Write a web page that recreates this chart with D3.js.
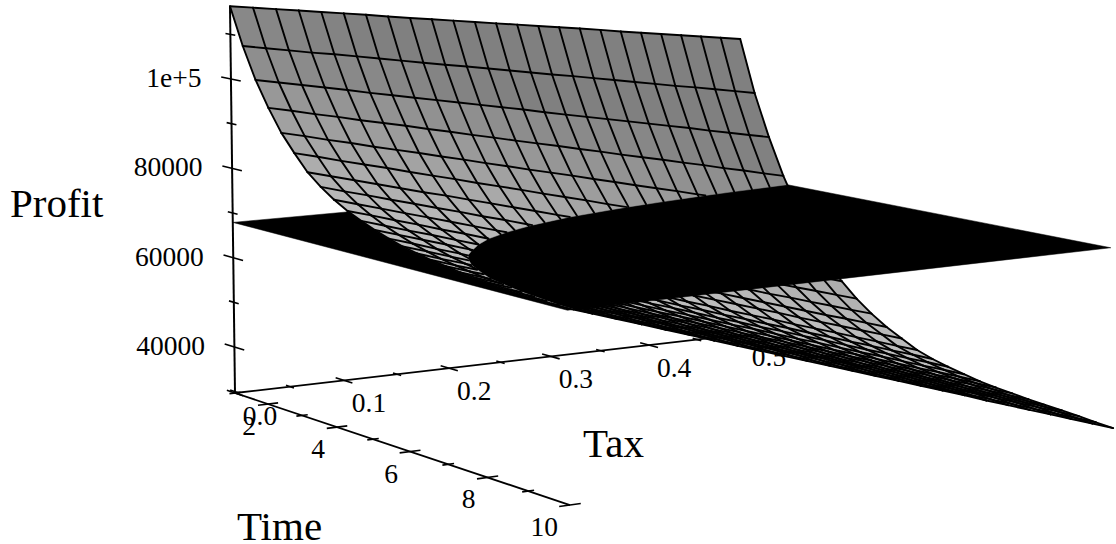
<!DOCTYPE html>
<html>
<head>
<meta charset="utf-8">
<script src="https://cdn.jsdelivr.net/npm/d3@7"></script>
<style>
  body { margin: 0; background: #fff; }
  text { font-family: "Liberation Serif", serif; fill: #000; }
</style>
</head>
<body>
<div id="chart"></div>
<script>
const taxGrid = [0,.0208,.0417,.0625,.0833,.1042,.125,.1458,.1667,.1875,.2083,.2292,.25,.2708,.2917,.3125,.3333,.3542,.375,.3958,.4167,.4375,.4583,.4792,.5];
const timeGrid = [1,1.375,1.75,2.125,2.5,2.875,3.25,3.625,4,4.375,4.75,5.125,5.5,5.875,6.25,6.625,7,7.375,7.75,8.125,8.5,8.875,9.25,9.625,10];
// Profit en miles: una fila por cada valor de timeGrid, una columna por cada valor de taxGrid
const profitThousands = [
[116.3,115.7,115.1,114.5,113.9,113.3,112.7,112.0,111.4,110.8,110.2,109.6,109.0,108.4,107.8,107.2,106.6,106.0,105.3,104.7,104.1,103.5,102.9,102.3,101.7],
[107.9,107.1,106.3,105.5,104.8,104.0,103.2,102.4,101.6,100.8,100.1,99.3,98.5,97.7,96.9,96.2,95.4,94.6,93.8,93.0,92.2,91.5,90.7,89.9,89.1],
[100.9,100.0,99.1,98.2,97.3,96.3,95.4,94.5,93.6,92.7,91.8,90.9,90.0,89.0,88.1,87.2,86.3,85.4,84.5,83.6,82.7,81.7,80.8,79.9,79.0],
[95.3,94.3,93.2,92.2,91.1,90.1,89.1,88.0,87.0,85.9,84.9,83.8,82.8,81.8,80.7,79.7,78.6,77.6,76.6,75.5,74.5,73.4,72.4,71.3,70.3],
[90.4,89.3,88.1,87.0,85.8,84.7,83.6,82.4,81.3,80.1,79.0,77.8,76.7,75.6,74.4,73.3,72.1,71.0,69.9,68.7,67.6,66.4,65.3,64.1,63.0],
[86.6,85.4,84.1,82.9,81.7,80.4,79.2,78.0,76.7,75.5,74.3,73.0,71.8,70.6,69.3,68.1,66.9,65.6,64.4,63.2,61.9,60.7,59.5,58.2,57.0],
[83.1,81.8,80.5,79.2,77.9,76.6,75.4,74.1,72.8,71.5,70.2,68.9,67.6,66.3,65.0,63.7,62.4,61.1,59.9,58.6,57.3,56.0,54.7,53.4,52.1],
[80.6,79.2,77.9,76.5,75.2,73.8,72.5,71.1,69.8,68.4,67.1,65.7,64.4,63.0,61.6,60.3,58.9,57.6,56.2,54.9,53.5,52.2,50.8,49.5,48.1],
[78.5,77.1,75.7,74.3,72.9,71.5,70.1,68.7,67.3,65.9,64.5,63.1,61.7,60.2,58.8,57.4,56.0,54.6,53.2,51.8,50.4,49.0,47.6,46.2,44.8],
[76.8,75.4,73.9,72.5,71.0,69.6,68.1,66.7,65.2,63.8,62.3,60.9,59.5,58.0,56.6,55.1,53.7,52.2,50.8,49.3,47.9,46.4,45.0,43.5,42.1],
[75.4,73.9,72.4,71.0,69.5,68.0,66.5,65.0,63.5,62.0,60.6,59.1,57.6,56.1,54.6,53.1,51.7,50.2,48.7,47.2,45.7,44.2,42.8,41.3,39.8],
[74.2,72.7,71.2,69.7,68.2,66.7,65.2,63.6,62.1,60.6,59.1,57.6,56.1,54.6,53.1,51.6,50.1,48.6,47.1,45.5,44.0,42.5,41.0,39.5,38.0],
[73.1,71.6,70.0,68.5,66.9,65.4,63.9,62.3,60.8,59.3,57.7,56.2,54.7,53.1,51.6,50.0,48.5,47.0,45.4,43.9,42.4,40.8,39.3,37.7,36.2],
[72.2,70.7,69.1,67.6,66.0,64.5,62.9,61.4,59.8,58.3,56.7,55.2,53.6,52.1,50.5,49.0,47.4,45.9,44.3,42.8,41.2,39.7,38.1,36.6,35.0],
[71.5,69.9,68.4,66.8,65.3,63.7,62.2,60.6,59.0,57.5,55.9,54.4,52.8,51.2,49.7,48.1,46.6,45.0,43.5,41.9,40.3,38.8,37.2,35.7,34.1],
[70.9,69.3,67.8,66.2,64.6,63.1,61.5,59.9,58.4,56.8,55.2,53.7,52.1,50.5,49.0,47.4,45.8,44.3,42.7,41.1,39.6,38.0,36.4,34.9,33.3],
[70.4,68.8,67.3,65.7,64.1,62.5,61.0,59.4,57.8,56.2,54.7,53.1,51.5,49.9,48.4,46.8,45.2,43.6,42.1,40.5,38.9,37.3,35.8,34.2,32.6],
[69.9,68.3,66.8,65.2,63.6,62.0,60.5,58.9,57.3,55.7,54.2,52.6,51.0,49.4,47.9,46.3,44.7,43.1,41.6,40.0,38.4,36.8,35.3,33.7,32.1],
[69.6,68.0,66.4,64.9,63.3,61.7,60.1,58.5,57.0,55.4,53.8,52.2,50.7,49.1,47.5,45.9,44.3,42.8,41.2,39.6,38.0,36.4,34.9,33.3,31.7],
[69.3,67.7,66.1,64.5,63.0,61.4,59.8,58.2,56.6,55.0,53.5,51.9,50.3,48.7,47.1,45.5,44.0,42.4,40.8,39.2,37.6,36.0,34.5,32.9,31.3],
[69.0,67.4,65.8,64.3,62.7,61.1,59.5,57.9,56.3,54.8,53.2,51.6,50.0,48.4,46.8,45.2,43.7,42.1,40.5,38.9,37.3,35.7,34.2,32.6,31.0],
[68.8,67.2,65.6,64.0,62.5,60.9,59.3,57.7,56.1,54.5,52.9,51.3,49.8,48.2,46.6,45.0,43.4,41.8,40.2,38.6,37.0,35.5,33.9,32.3,30.7],
[68.6,67.0,65.4,63.8,62.2,60.6,59.0,57.5,55.9,54.3,52.7,51.1,49.5,47.9,46.3,44.7,43.1,41.5,39.9,38.4,36.8,35.2,33.6,32.0,30.4],
[68.4,66.8,65.2,63.6,62.0,60.4,58.8,57.2,55.6,54.0,52.4,50.8,49.2,47.6,46.0,44.4,42.8,41.2,39.6,38.0,36.4,34.8,33.2,31.6,30.0],
[68.3,66.7,65.1,63.5,61.9,60.3,58.6,57.0,55.4,53.8,52.2,50.6,49.0,47.4,45.8,44.2,42.6,41.0,39.3,37.7,36.1,34.5,32.9,31.3,29.7]
];
const planeCorners = [[67900,68300],[67900,68700]];
const taxMajor = [0,.1,.2,.3,.4,.5], taxMinor = [.05,.15,.25,.35,.45];
const timeMajor = [2,4,6,8,10], timeMinor = [1,3,5,7,9];
const profitMajor = [40000,60000,80000,100000], profitMinor = [30000,50000,70000,90000,110000];
const profitLabels = ["40000","60000","80000","1e+5"];

const width = 1116, height = 544;
const svg = d3.select("#chart").append("svg").attr("width", width).attr("height", height);

const xS = d3.scaleLinear().domain([0, .5]).range([0, 1]);
const yS = d3.scaleLinear().domain([1, 10]).range([0, 1]);
const zS = d3.scaleLinear().domain([29700, 116350]).range([0, 1]);

// proyeccion en perspectiva ajustada a las esquinas de la caja
function project(tax, time, profit) {
    const u = xS(tax), v = yS(time), w = zS(profit);
    const d = 1 + .09 * u - .124 * v;
    return [(235 + 576 * u + 264.3 * v - 5 * w) / d, (393 - 28.9 * u + 49.4 * v - 387 * w) / d];
}
const P = p => project(p.tax, p.time, p.profit);
const line = d3.line();

function planeAt(tax, time) {
    const u = xS(tax), v = yS(time);
    return d3.interpolateNumber(
        d3.interpolateNumber(planeCorners[0][0], planeCorners[0][1])(u),
        d3.interpolateNumber(planeCorners[1][0], planeCorners[1][1])(u))(v);
}

// parte de un poligono o linea por encima (1) o debajo (-1) del plano
function clipSide(pts, side, closed) {
    const out = [];
    const s = p => (p.profit - planeAt(p.tax, p.time)) * side;
    const n = pts.length;
    for (let i = 0; i < (closed ? n : n - 1); i++) {
        const a = pts[i], b = pts[(i + 1) % n], sa = s(a), sb = s(b);
        if (sa >= 0) out.push(a);
        if (sa * sb < 0) {
            const t = sa / (sa - sb);
            out.push({tax: a.tax + (b.tax - a.tax) * t, time: a.time + (b.time - a.time) * t, profit: a.profit + (b.profit - a.profit) * t});
        }
    }
    if (!closed && s(pts[n - 1]) >= 0) out.push(pts[n - 1]);
    return out;
}

// Ejes
const axes = svg.append("g");
function seg(p, q, w) {
    axes.append("path").attr("d", line([project(...p), project(...q)])).attr("stroke", "#000").attr("stroke-width", w).attr("fill", "none");
}
seg([0, 1, 29700], [0, 1, 116350], 2);
seg([0, 1, 29700], [.5, 1, 29700], 1.8);
seg([0, 1, 29700], [0, 10, 29700], 1.8);

profitMajor.forEach((d, i) => {
    seg([0, .7, d], [0, 1.3, d], 1.6);
    const [x, y] = project(0, 1, d);
    axes.append("text").attr("x", x - 29.5).attr("y", y + 8).attr("text-anchor", "end").attr("font-size", 27.5).text(profitLabels[i]);
});
profitMinor.forEach(d => seg([0, .85, d], [0, 1.15, d], 1.6));

taxMajor.forEach(d => {
    seg([d, .75, 29700], [d, 1.25, 29700], 1.6);
    const [x, y] = project(d, 1, 29700);
    axes.append("text").attr("x", x + 25).attr("y", y + 32).attr("text-anchor", "middle").attr("font-size", 27.5).text(d.toFixed(1));
});
taxMinor.forEach(d => seg([d, .88, 29700], [d, 1.12, 29700], 1.6));

timeMajor.forEach(d => {
    seg([-.009, d, 29700], [.009, d, 29700], 1.6);
    const [x, y] = project(0, d, 29700);
    axes.append("text").attr("x", x - 12).attr("y", y + 31).attr("text-anchor", "end").attr("font-size", 27.5).text(d);
});
timeMinor.forEach(d => seg([-.005, d, 29700], [.005, d, 29700], 1.6));

[["Profit", 10, 217], ["Tax", 583, 457], ["Time", 237, 540]].forEach(t => {
    axes.append("text").attr("x", t[1]).attr("y", t[2]).attr("font-size", 41).text(t[0]);
});

// Superficie
const rows = timeGrid.map((t, k) => taxGrid.map((x, j) => ({tax: x, time: t, profit: profitThousands[k][j] * 1000})));
const shade = d3.scaleLinear().domain([.015, .1]).range(["#bebebe", "#808080"]).clamp(true);
const drop = (k, j) => zS(rows[k][j].profit) - zS(rows[k + 1][j].profit);
const below = svg.append("g"), plane = svg.append("g"), above = svg.append("g");

function drawSurface(g, side) {
    for (let k = 0; k < rows.length - 1; k++) {
        for (let j = 0; j < taxGrid.length - 1; j++) {
            const cell = [rows[k][j], rows[k][j + 1], rows[k + 1][j + 1], rows[k + 1][j]];
            const part = clipSide(cell, side, true);
            if (part.length < 3) continue;
            // media con las filas vecinas para que no se note el bandeado
            const near = d3.range(Math.max(k - 1, 0), Math.min(k + 2, rows.length - 1));
            const c = shade(d3.mean(near, n => drop(n, j)));
            g.append("path").attr("d", line(part.map(P)) + "Z").attr("fill", c).attr("stroke", c).attr("stroke-width", .5);
        }
    }
    const gridLine = pts => {
        for (let i = 0; i < pts.length - 1; i++) {
            const part = clipSide([pts[i], pts[i + 1]], side, false);
            if (part.length < 2) continue;
            g.append("path").attr("d", line(part.map(P))).attr("fill", "none").attr("stroke", "#000")
                .attr("stroke-width", 1.9).attr("stroke-linecap", "round");
        }
    };
    rows.forEach(gridLine);
    taxGrid.forEach((x, j) => gridLine(rows.map(r => r[j])));
}
drawSurface(below, -1);
const cornerPts = [[0, 1, planeCorners[0][0]], [.5, 1, planeCorners[0][1]], [.5, 10, planeCorners[1][1]], [0, 10, planeCorners[1][0]]];
plane.append("path").attr("d", line(cornerPts.map(p => project(...p))) + "Z").attr("fill", "#000").attr("stroke", "#000").attr("stroke-width", .5);
drawSurface(above, 1);
</script>
</body>
</html>
